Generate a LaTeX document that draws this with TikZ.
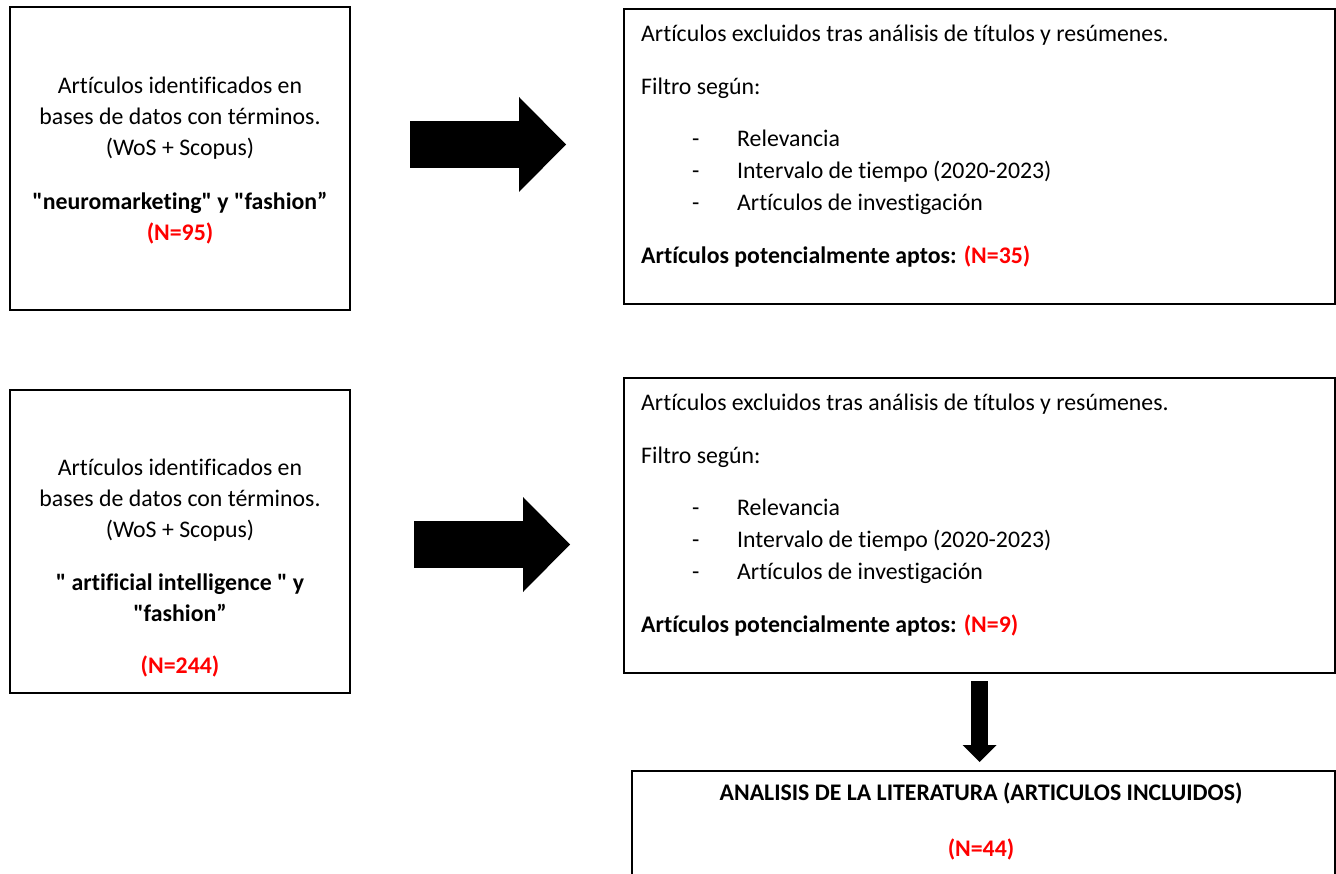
\documentclass[tikz,border=0pt]{standalone}
\usepackage{fontspec}
\setmainfont{Carlito}[Ligatures={TeXOff,CommonOff}]
\usepackage{xcolor}
\usetikzlibrary{arrows.meta,positioning,calc}

\begin{document}
\begin{tikzpicture}[x=1pt, y=-1pt, every node/.style={font=\fontsize{23.8}{31}\selectfont}]
\tikzset{box/.style={draw, line width=2pt, minimum width=340pt, minimum height=303pt, inner sep=0pt}}
\tikzset{wide/.style={box, minimum width=711pt, minimum height=295pt}}
\tikzset{txt/.style={inner sep=0pt, align=center, anchor=north}}
\tikzset{listtxt/.style={inner sep=0pt, align=left, anchor=north west, font=\fontsize{23.8}{32}\selectfont}}
\tikzset{bigarrow/.style={line width=47pt, -{Triangle[length=47pt, width=95pt, line width=0pt]}}}
\tikzset{downarrow/.style={line width=17pt, -{Triangle[length=17pt, width=34pt, line width=0pt]}}}
\newcommand{\dashitem}[1]{\makebox[96pt][l]{\hspace*{51pt}-}#1}
\useasboundingbox (0,0) rectangle (1336,874);
% boxes
\node[box] (id1) at (180,158.5) {};
\node[box] (id2) at (180,541.5) {};
\node[wide] (ex1) at (979.5,156.5) {};
\node[wide] (ex2) at (979.5,525.5) {};
\node[box, minimum width=703pt, minimum height=110pt] (lit) at (983.5,826) {};
% texts
\node[txt] (id1t) at ($(id1.north)+(0,71)$) {Artículos identificados en\\bases de datos con términos.\\(WoS + Scopus)\\[23pt]
  \textbf{"neuromarketing" y "fashion”}\\\textbf{\textcolor{red}{(N=95)}}};
\node[txt] (id2t) at ($(id2.north)+(0,70)$) {Artículos identificados en\\bases de datos con términos.\\(WoS + Scopus)\\[22pt]
  \textbf{" artificial intelligence " y}\\\textbf{"fashion”}\\[21pt]\textbf{\textcolor{red}{(N=244)}}};
\node[listtxt] (ex1t) at ($(ex1.north west)+(18,17)$) {Artículos excluidos tras análisis de títulos y resúmenes.\\[21pt]
  Filtro según:\\[20pt]\dashitem{Relevancia}\\\dashitem{Intervalo de tiempo (2020-2023)}\\\dashitem{Artículos de investigación}\\[21pt]
  \textbf{Artículos potencialmente aptos: \textcolor{red}{(N=35)}}};
\node[listtxt] (ex2t) at ($(ex2.north west)+(18,17)$) {Artículos excluidos tras análisis de títulos y resúmenes.\\[21pt]
  Filtro según:\\[20pt]\dashitem{Relevancia}\\\dashitem{Intervalo de tiempo (2020-2023)}\\\dashitem{Artículos de investigación}\\[21pt]
  \textbf{Artículos potencialmente aptos: \textcolor{red}{(N=9)}}};
\node[txt] (litt) at ($(lit.north)+(-2.5,13)$) {\textbf{ANALISIS DE LA LITERATURA (ARTICULOS INCLUIDOS)}\\[25pt]\textbf{\textcolor{red}{(N=44)}}};
% arrows
\coordinate (a1s) at (410,144.5);
\coordinate (a1e) at (566,144.5);
\coordinate (a2s) at (414,544.5);
\coordinate (a2e) at (570,544.5);
\draw[bigarrow] (a1s) -- (a1e);
\draw[bigarrow] (a2s) -- (a2e);
\draw[downarrow] ($(ex2.south)+(0,7)$) -- ($(ex2.south |- lit.north)+(0,-8)$);
\end{tikzpicture}
\end{document}
